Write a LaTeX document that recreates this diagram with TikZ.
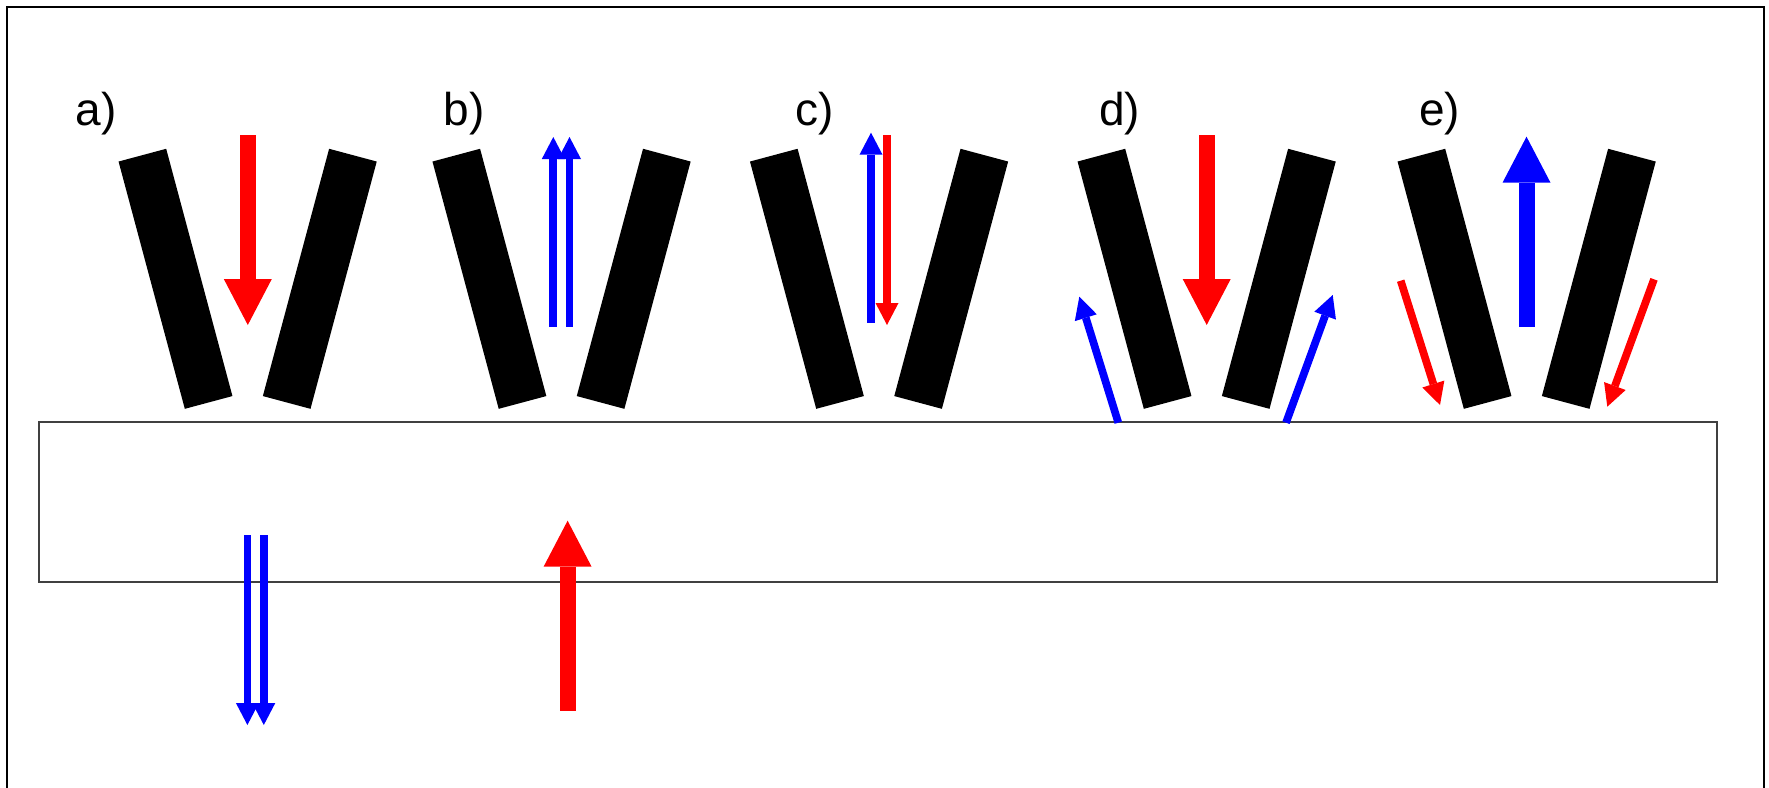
\documentclass[tikz,border=0pt]{standalone}
\usepackage{fontspec}
\setmainfont{Liberation Sans}
\usetikzlibrary{arrows.meta}
\definecolor{pred}{RGB}{255,0,0}
\definecolor{pblue}{RGB}{0,0,255}
\tikzset{
  bar/.style={fill=black, minimum width=49.3pt, minimum height=256pt, inner sep=0pt, outer sep=0pt},
  bigarrow/.style={line width=16pt, -{Triangle[width=48pt,length=46pt,line width=0pt]}},
  smallarrow/.style={line width=7.7pt, -{Triangle[width=23pt,length=22pt,line width=0pt]}},
  lbl/.style={font=\fontsize{46}{50}\selectfont, inner sep=0pt, outer sep=0pt, anchor=base west},
  frameline/.style={draw=black, line width=2pt},
  substrate/.style={draw=black!75, line width=2pt}
}
\begin{document}
\begin{tikzpicture}[x=1pt, y=-1pt]
\useasboundingbox (0,0) rectangle (1769,787);
\fill[white] (0,0) rectangle (1769,787);
% outer frame (bottom edge lies outside the picture)
\draw[frameline] (6.5,900) -- (6.5,6.5) -- (1764.3,6.5) -- (1764.3,900);
% substrate
\node[substrate, inner sep=0pt, minimum width=1678pt, minimum height=159.7pt] (sub) at (877.7,501.85) {};

% labels
\node[lbl] (la) at (75.6,125.7) {a)};
\node[lbl] (lb) at (443.7,125.7) {b)};
\node[lbl] (lc) at (795.2,125.7) {c)};
\node[lbl] (ld) at (1099,125.7) {d)};
\node[lbl] (le) at (1419.1,125.7) {e)};

% bars
\node[bar, rotate=15]  (aL) at (175.5,278.8) {};
\node[bar, rotate=-15] (aR) at (319.8,278.8) {};
\node[bar, rotate=15]  (bL) at (489.4,278.8) {};
\node[bar, rotate=-15] (bR) at (633.7,278.8) {};
\node[bar, rotate=15]  (cL) at (806.9,278.8) {};
\node[bar, rotate=-15] (cR) at (951.2,278.8) {};
\node[bar, rotate=15]  (dL) at (1134.5,278.8) {};
\node[bar, rotate=-15] (dR) at (1278.8,278.8) {};
\node[bar, rotate=15]  (eL) at (1454.5,278.8) {};
\node[bar, rotate=-15] (eR) at (1598.8,278.8) {};

% a)
\draw[bigarrow, pred] (247.8,135) -- (247.8,325);
% b)
\draw[smallarrow, pblue] (553.3,326.7) -- (553.3,137);
\draw[smallarrow, pblue] (569.5,326.7) -- (569.5,137);
% c)
\draw[smallarrow, pblue] (871,322.7) -- (871,132.7);
\draw[smallarrow, pred] (887,135) -- (887,325);
% d)
\draw[bigarrow, pred] (1206.7,135) -- (1206.7,325);
\draw[smallarrow, pblue] (1118.3,422.7) -- (1079.3,296.7);
\draw[smallarrow, pblue] (1286,422.7) -- (1332.7,295);
% e)
\draw[bigarrow, pblue] (1526.5,326.7) -- (1526.5,136.7);
\draw[smallarrow, pred] (1400.7,280.7) -- (1440,405);
\draw[smallarrow, pred] (1654,279.3) -- (1607.3,406.7);

% below the substrate
\draw[smallarrow, pblue] (247.4,535) -- (247.4,725);
\draw[smallarrow, pblue] (263.8,535) -- (263.8,725);
\draw[bigarrow, pred] (567.6,710.7) -- (567.6,520.7);
\end{tikzpicture}
\end{document}
